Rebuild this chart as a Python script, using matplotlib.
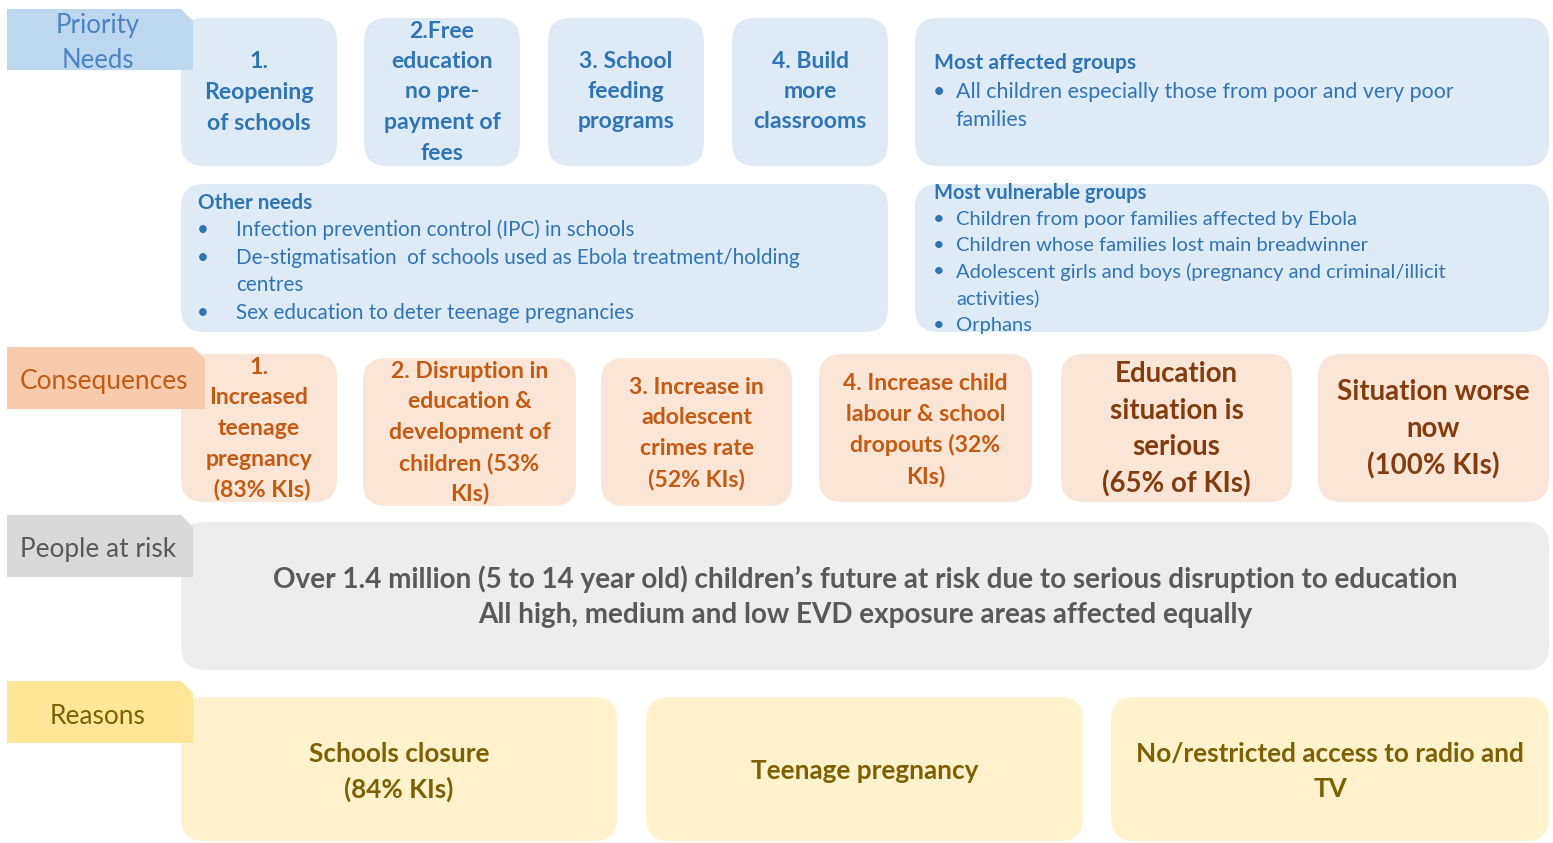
import matplotlib.pyplot as plt
from matplotlib.patches import FancyBboxPatch, Polygon

plt.rcParams['font.family'] = ['Lato', 'DejaVu Sans']

## text content of the infographic
tab_labels = ['Priority\nNeeds', 'Consequences', 'People at risk', 'Reasons']
priority_needs = ['1.\nReopening\nof schools',
                  '2.Free\neducation\nno pre-\npayment of\nfees',
                  '3. School\nfeeding\nprograms',
                  '4. Build\nmore\nclassrooms']
affected_title = 'Most affected groups'
affected_items = ['All children especially those from poor and very poor\nfamilies']
other_title = 'Other needs'
other_items = ['Infection prevention control (IPC) in schools',
               'De-stigmatisation  of schools used as Ebola treatment/holding\ncentres',
               'Sex education to deter teenage pregnancies']
vulnerable_title = 'Most vulnerable groups'
vulnerable_items = ['Children from poor families affected by Ebola',
                    'Children whose families lost main breadwinner',
                    'Adolescent girls and boys (pregnancy and criminal/illicit\nactivities)',
                    'Orphans']
consequences = ['1.\nIncreased\nteenage\npregnancy\n (83% KIs)',
                '2. Disruption in\neducation &\ndevelopment of\nchildren (53%\nKIs)',
                '3. Increase in\nadolescent\ncrimes rate\n(52% KIs)',
                '4. Increase child\nlabour & school\ndropouts (32%\nKIs)',
                'Education\nsituation is\nserious\n(65% of KIs)',
                'Situation worse\nnow\n(100% KIs)']
people_at_risk = ['Over 1.4 million (5 to 14 year old) children\u2019s future at risk due to serious disruption to education',
                  'All high, medium and low EVD exposure areas affected equally']
reasons = ['Schools closure\n(84% KIs)', 'Teenage pregnancy', 'No/restricted access to radio and\nTV']

# colours per row: tab, box, text
blue = ('#BDD7EE', '#DEEBF7', '#2E75B6')
orange = ('#F8CBAD', '#FBE5D6', '#C55A11')
grey = ('#D9D9D9', '#EDEDED', '#595959')
yellow = ('#FFE699', '#FFF2CC', '#7F6000')

fig = plt.figure(figsize=(15.53, 8.43), dpi=100)
ax = fig.add_axes([0, 0, 1, 1])
ax.set_xlim(0, 1553)
ax.set_ylim(843, 0)
ax.axis('off')


def box(x0, y0, x1, y1, color, r=24):
    ax.add_patch(FancyBboxPatch((x0, y0), x1 - x0, y1 - y0,
                                boxstyle='round,pad=0,rounding_size=%d' % r,
                                fc=color, ec='white', lw=1.5, zorder=1))


def tab(x0, y0, x1, y1, color, cut=12):
    pts = [(x0, y0), (x1 - cut, y0), (x1, y0 + cut), (x1, y1), (x0, y1)]
    ax.add_patch(Polygon(pts, closed=True, fc=color, ec='none', zorder=2))


def lines(x, y, step, text, size, color, weight='bold', ha='center'):
    for i, t in enumerate(text.split('\n')):
        ax.text(x, y + i * step, t, fontsize=size, color=color, weight=weight,
                ha=ha, va='center', zorder=3)


def bullets(xb, xt, y, step, items, size, color):
    k = 0
    for it in items:
        ax.text(xb, y + k * step, '\u2022', fontsize=size, color=color, ha='left', va='center', zorder=3)
        for ln in it.split('\n'):
            ax.text(xt, y + k * step, ln, fontsize=size, color=color, ha='left', va='center', zorder=3)
            k += 1


# ---- Priority needs row
for (x0, x1), txt, y in zip([(180, 338), (363, 521), (547, 705), (731, 889)],
                            priority_needs, [62, 31, 61, 61]):
    box(x0, 17, x1, 167, blue[1])
    lines((x0 + x1) / 2, y, 30.5, txt, 16.6, blue[2])
box(914, 17, 1550, 167, blue[1])
ax.text(934, 63, affected_title, fontsize=15.2, color=blue[2], weight='bold', va='center', zorder=3)
bullets(933, 956, 92, 28, affected_items, 15.4, blue[2])

box(180, 183, 889, 333, blue[1])
ax.text(198, 203, other_title, fontsize=14.9, color=blue[2], weight='bold', va='center', zorder=3)
bullets(197, 236, 230, 27.7, other_items, 14.9, blue[2])

box(914, 183, 1550, 333, blue[1])
ax.text(934, 193, vulnerable_title, fontsize=14.5, color=blue[2], weight='bold', va='center', zorder=3)
bullets(933, 956, 219, 26.5, vulnerable_items, 14.5, blue[2])

tab(7, 9, 193, 70, blue[0])
lines(98, 26, 34, tab_labels[0], 18.5, '#4A84C4', weight='normal')

# ---- Consequences row
cons_boxes = [(180, 353, 338, 503), (362, 357, 577, 507), (600, 357, 793, 507),
              (818, 353, 1033, 503), (1060, 353, 1293, 503), (1317, 353, 1550, 503)]
cons_y = [367, 371, 387, 384, 374, 392]
for i, ((x0, y0, x1, y1), txt, y) in enumerate(zip(cons_boxes, consequences, cons_y)):
    box(x0, y0, x1, y1, orange[1])
    if i < 4:
        lines((x0 + x1) / 2, y, 30.7, txt, 16.6, orange[2])
    else:
        lines((x0 + x1) / 2, y, 36.7, txt, 19.9, '#843C0C')

tab(7, 347, 205, 409, orange[0])
lines(104, 382, 30, tab_labels[1], 18.9, orange[2], weight='normal')

# ---- People at risk row
box(180, 521, 1550, 671, grey[1])
for i, t in enumerate(people_at_risk):
    ax.text(865, 579 + i * 36, t, fontsize=20.1, color=grey[2], weight='bold',
            ha='center', va='center', zorder=3)
tab(7, 515, 193, 577, grey[0])
lines(98, 550, 30, tab_labels[2], 18.9, grey[2], weight='normal')

# ---- Reasons row
reason_boxes = [(180, 618), (645, 1084), (1110, 1550)]
reason_y = [754, 771, 754]
for (x0, x1), txt, y in zip(reason_boxes, reasons, reason_y):
    box(x0, 696, x1, 842, yellow[1])
    lines((x0 + x1) / 2, y, 35, txt, 18.8, yellow[2])
tab(7, 681, 193, 743, yellow[0])
lines(98, 716, 30, tab_labels[3], 18.9, yellow[2], weight='normal')

fig.savefig('out.png', dpi=100, facecolor='white')
